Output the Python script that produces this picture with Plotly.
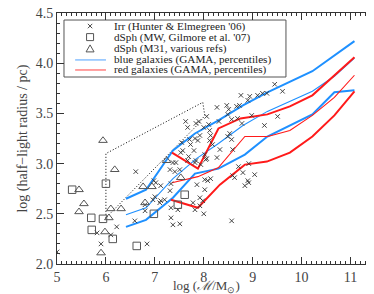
import plotly.graph_objects as go

# log stellar mass / log half-light radius

# Irr galaxies (Hunter & Elmegreen '06)
irr_mass = [5.00, 5.82, 5.90, 6.10, 6.22, 6.61, 6.59, 6.84, 6.98, 6.96, 6.80, 6.80, 7.12, 7.12,
            7.02, 7.31, 7.00, 7.10, 7.33, 7.20, 7.33, 7.47, 7.78, 7.92, 7.82, 7.92, 7.37, 7.51,
            7.33, 7.98, 8.00, 7.86, 8.02, 8.02, 8.14, 7.31, 7.41, 7.51, 7.37, 7.43, 7.53, 7.57,
            7.67, 7.84, 7.94, 7.82, 8.04, 8.06, 8.27, 7.69, 7.80, 7.73, 7.88, 7.82, 7.71, 7.92,
            8.02, 8.12, 8.14, 8.18, 8.33, 8.10, 8.00, 7.90, 7.63, 7.84, 7.67, 7.55, 8.06, 8.12,
            8.31, 8.27, 8.47, 8.51, 8.49, 8.57, 8.69, 8.67, 8.73, 8.76, 8.90, 8.94, 9.10, 9.20,
            9.29, 9.45, 9.61, 8.98, 9.51, 9.24, 8.78, 8.53, 8.49, 8.57, 8.63, 8.90, 9.04, 8.71,
            8.92, 8.80, 8.92, 8.84, 8.57, 8.59, 8.59, 8.08]
irr_rhalf = [2.12, 2.31, 2.20, 2.29, 2.37, 2.92, 2.43, 2.20, 2.83, 2.64, 2.59, 2.53, 2.78, 2.63,
             2.81, 2.73, 2.67, 2.61, 2.80, 2.64, 2.56, 2.54, 2.61, 2.66, 2.54, 2.58, 2.39, 2.40,
             2.46, 2.63, 2.50, 2.79, 2.74, 2.84, 2.85, 2.94, 2.92, 2.94, 3.01, 3.01, 3.11, 3.13,
             3.03, 3.03, 2.99, 3.01, 3.04, 3.05, 3.06, 3.07, 3.13, 3.19, 3.23, 3.25, 3.24, 3.28,
             3.09, 3.23, 3.28, 3.19, 3.14, 3.39, 3.36, 3.42, 3.42, 3.40, 3.36, 3.21, 3.47, 3.33,
             3.42, 3.56, 3.58, 3.54, 3.49, 3.44, 3.45, 3.57, 3.58, 3.68, 3.63, 3.67, 3.68, 3.70,
             3.70, 3.79, 3.72, 3.48, 3.47, 3.38, 3.40, 3.30, 3.27, 3.24, 2.86, 2.83, 2.89, 2.97,
             3.00, 2.91, 2.81, 2.78, 2.43, 3.14, 2.88, 2.83]

# dSph, Milky Way (Gilmore et al. '07)
mw_mass = [5.31, 5.70, 5.71, 5.94, 6.00, 6.14, 6.63, 6.98, 7.61, 7.47]
mw_rhalf = [2.74, 2.46, 2.34, 2.45, 2.80, 2.25, 2.18, 2.50, 2.69, 2.59]

# dSph, M31 (various refs)
m31_mass = [5.94, 6.18, 5.45, 5.55, 5.45, 6.06, 6.10, 6.31, 5.90, 5.98, 6.76, 6.94, 6.80, 7.24, 7.53]
m31_rhalf = [3.23, 2.94, 2.74, 2.60, 2.52, 2.46, 2.55, 2.55, 2.11, 2.32, 2.77, 2.77, 2.61, 3.03, 2.86]

# dotted outline
poly_mass = [6.00, 6.00, 7.98, 8.02, 7.90, 6.00]
poly_rhalf = [2.46, 3.10, 3.61, 3.48, 3.40, 2.46]

# GAMA blue galaxies, percentiles
blue_hi_mass = [6.41, 6.82, 7.37, 7.82, 8.30, 8.80, 9.30, 10.22, 11.08]
blue_hi = [2.65, 2.74, 3.13, 3.30, 3.43, 3.58, 3.71, 3.92, 4.22]
blue_mid_mass = [6.41, 6.82, 7.37, 7.85, 8.30, 8.80, 9.30, 9.76, 10.22, 10.67, 11.08]
blue_mid = [2.49, 2.56, 2.85, 3.05, 3.20, 3.38, 3.52, 3.62, 3.72, 3.87, 4.05]
blue_lo_mass = [6.41, 6.82, 7.37, 7.82, 8.30, 8.84, 9.30, 9.76, 10.22, 10.67, 11.08]
blue_lo = [2.37, 2.44, 2.66, 2.90, 2.95, 3.09, 3.27, 3.38, 3.49, 3.71, 3.73]

# GAMA red galaxies, percentiles
red_hi_mass = [7.35, 7.88, 8.30, 8.75, 9.30, 9.76, 10.22, 10.67, 11.08]
red_hi = [3.11, 2.95, 3.35, 3.45, 3.49, 3.57, 3.68, 3.88, 4.06]
red_mid_mass = [7.35, 7.88, 8.30, 8.84, 9.31, 9.76, 10.22, 10.67, 11.08]
red_mid = [2.81, 2.87, 2.96, 3.27, 3.27, 3.33, 3.48, 3.66, 3.88]
red_lo_mass = [7.33, 7.88, 8.33, 8.84, 9.29, 9.76, 10.22, 10.67, 11.08]
red_lo = [2.64, 2.56, 2.79, 2.99, 3.02, 3.11, 3.27, 3.48, 3.72]

legend_labels = ["Irr (Hunter & Elmegreen '06)", "dSph (MW, Gilmore et al. '07)",
                 "dSph (M31, various refs)", "blue galaxies (GAMA, percentiles)",
                 "red galaxies (GAMA, percentiles)"]

SERIF = "Liberation Serif"
AX = "#333333"
BLUE = "#1e90ff"
RED = "#ff1a1a"
PW, PH = 318.0, 251.0  # plot area in px, for legend glyphs in paper units

fig = go.Figure()

fig.add_trace(go.Scatter(x=poly_mass, y=poly_rhalf, mode="lines",
                         line=dict(color="black", width=1, dash="1px,2px")))

for xs, ys, c, w in [(blue_hi_mass, blue_hi, BLUE, 2), (blue_mid_mass, blue_mid, BLUE, 1.1),
                     (blue_lo_mass, blue_lo, BLUE, 2), (red_hi_mass, red_hi, RED, 2),
                     (red_mid_mass, red_mid, RED, 1.1), (red_lo_mass, red_lo, RED, 2)]:
    fig.add_trace(go.Scatter(x=xs, y=ys, mode="lines", line=dict(color=c, width=w)))

fig.add_trace(go.Scatter(x=irr_mass, y=irr_rhalf, mode="markers",
                         marker=dict(symbol="x-thin-open", size=4.5, color="#333", line=dict(width=0.9))))
fig.add_trace(go.Scatter(x=mw_mass, y=mw_rhalf, mode="markers",
                         marker=dict(symbol="square-open", size=7.5, color="#555", line=dict(width=1))))
fig.add_trace(go.Scatter(x=m31_mass, y=m31_rhalf, mode="markers",
                         marker=dict(symbol="triangle-up-open", size=7.5, color="#555", line=dict(width=1))))

# legend, drawn by hand in paper coordinates
rows = [0.948, 0.904, 0.857, 0.813, 0.773]
sx = 0.104
fig.add_shape(type="rect", xref="paper", yref="paper", x0=0.022, x1=0.72, y0=0.745, y1=0.972,
              line=dict(color="#555", width=1), fillcolor="white", layer="below")
dx, dy = 2.2 / PW, 2.2 / PH
glyph = dict(xref="paper", yref="paper", line=dict(color="#333", width=0.9))
fig.add_shape(type="line", x0=sx - dx, x1=sx + dx, y0=rows[0] - dy, y1=rows[0] + dy, **glyph)
fig.add_shape(type="line", x0=sx - dx, x1=sx + dx, y0=rows[0] + dy, y1=rows[0] - dy, **glyph)
dx, dy = 3.5 / PW, 3.5 / PH
fig.add_shape(type="rect", x0=sx - dx, x1=sx + dx, y0=rows[1] - dy, y1=rows[1] + dy,
              xref="paper", yref="paper", line=dict(color="#555", width=1))
tri = "M {a},{b} L {c},{d} L {e},{d} Z".format(a=sx, b=rows[2] + 4 / PH, c=sx - 4 / PW,
                                              d=rows[2] - 3 / PH, e=sx + 4 / PW)
fig.add_shape(type="path", path=tri, xref="paper", yref="paper", line=dict(color="#555", width=1))
fig.add_shape(type="line", x0=0.057, x1=0.154, y0=rows[3], y1=rows[3], xref="paper", yref="paper",
              line=dict(color="#6ab0ff", width=1.2))
fig.add_shape(type="line", x0=0.057, x1=0.154, y0=rows[4], y1=rows[4], xref="paper", yref="paper",
              line=dict(color="#ff6060", width=1.2))
for lab, ry in zip(legend_labels, rows):
    fig.add_annotation(x=0.173, y=ry, xref="paper", yref="paper", text=lab, showarrow=False,
                       xanchor="left", yanchor="middle",
                       font=dict(family=SERIF, size=11.2, color="#222"))

# axis titles
fig.add_annotation(x=0.47, y=-0.089, xref="paper", yref="paper", showarrow=False,
                   text="log (<i>ℳ</i>/M<sub>⊙</sub>)", xanchor="center", yanchor="middle",
                   font=dict(family=SERIF, size=13, color="#444"))
fig.add_annotation(x=-0.11, y=0.5, xref="paper", yref="paper", showarrow=False, textangle=-90,
                   text="log (half−light radius / pc)", xanchor="center", yanchor="middle",
                   font=dict(family=SERIF, size=14, color="#444"))

axis_common = dict(showgrid=False, zeroline=False, showline=True, linecolor=AX, linewidth=1,
                   mirror="allticks", ticks="inside", ticklen=7, tickcolor=AX, tickwidth=1,
                   automargin=False, ticklabeloverflow="allow",
                   tickfont=dict(family=SERIF, size=14, color="#444"))

fig.update_layout(
    width=374, height=294,
    margin=dict(l=49, r=7, t=5, b=38),
    paper_bgcolor="white", plot_bgcolor="white",
    showlegend=False,
    xaxis=dict(range=[5, 11.5], tick0=5, dtick=1,
               minor=dict(dtick=0.1, ticklen=3, ticks="inside", tickcolor=AX),
               **axis_common),
    yaxis=dict(range=[2.0, 4.5], tick0=2, dtick=0.5, tickformat=".1f",
               minor=dict(dtick=0.1, ticklen=3, ticks="inside", tickcolor=AX),
               **axis_common),
)

fig.write_html("out.html")
